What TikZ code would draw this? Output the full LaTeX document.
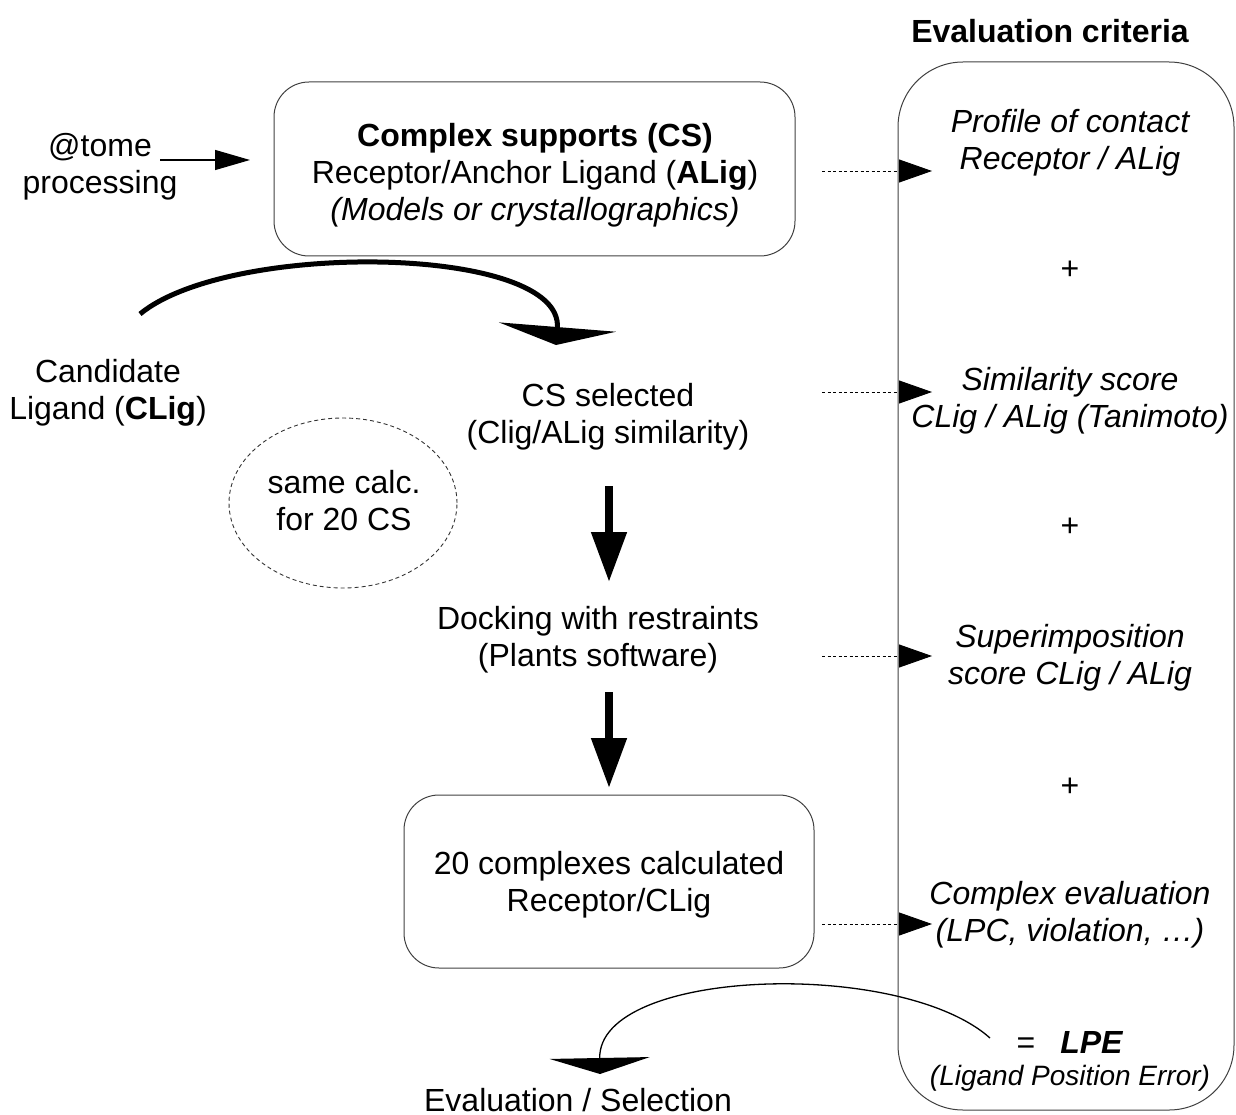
\documentclass[tikz,border=0pt]{standalone}
\usepackage{fontspec}
\setmainfont{Liberation Sans}
\usetikzlibrary{arrows.meta,shapes.geometric}
\begin{document}
\begin{tikzpicture}[x=1pt,y=-1pt,
  txt/.style={font=\fontsize{32}{37}\selectfont, align=center, inner sep=0pt},
  itxt/.style={font=\fontsize{32}{37}\selectfont\itshape, align=center, inner sep=0pt},
  rbox/.style={draw=black!75, line width=1pt, rounded corners=#1, inner sep=0pt, rectangle},
  dotarrow/.style={dash pattern=on 3pt off 2.5pt, line width=0.9pt, -{Triangle[length=33pt,width=23pt]}},
  downarrow/.style={line width=8pt, -{Triangle[length=50pt,width=34pt]}},
  thinarrow/.style={line width=1.3pt, -{Triangle[length=35pt,width=20pt]}}
]
\useasboundingbox (0,0) rectangle (1236,1115);

% boxes
\node[rbox=35pt, minimum width=521pt, minimum height=174pt] (topbox) at (534.5,169) {};
\node[rbox=35pt, minimum width=410pt, minimum height=173pt] (botbox) at (609,881.5) {};
\node[rbox=65pt, minimum width=336pt, minimum height=1048pt] (crit) at (1066,586) {};
\node[draw=black!80, line width=0.9pt, dash pattern=on 4pt off 3pt, ellipse, minimum width=228pt, minimum height=170pt, inner sep=0pt] (same) at (343,503) {};

% texts
\node[txt, font=\fontsize{32}{37}\selectfont\bfseries] (evalcrit) at (1050,31) {Evaluation criteria};
\node[txt] (cstext) at (535,175) {\textbf{Complex supports (CS)}\\Receptor/Anchor Ligand (\textbf{ALig})\\\textit{(Models or crystallographics)}};
\node[txt] (tome) at (100,167) {@tome\\processing};
\node[txt] (cand) at (108,393) {Candidate\\Ligand (\textbf{CLig})};
\node[txt] (cssel) at (608,417) {CS selected\\(Clig/ALig similarity)};
\node[txt] (sametxt) at (344,501) {same calc.\\for 20 CS};
\node[txt] (dock) at (598,640) {Docking with restraints\\(Plants software)};
\node[txt] (complexes) at (609,885) {20 complexes calculated\\Receptor/CLig};
\node[txt] (evalsel) at (578,1100) {Evaluation / Selection};

\node[itxt] (c1) at (1070,143) {Profile of contact\\Receptor / ALig};
\node[txt] (p1) at (1070,270) {+};
\node[itxt] (c2) at (1070,401) {Similarity score\\CLig / ALig (Tanimoto)};
\node[txt] (p2) at (1070,527) {+};
\node[itxt] (c3) at (1070,658) {Superimposition\\score CLig / ALig};
\node[txt] (p3) at (1070,787) {+};
\node[itxt] (c4) at (1070,915) {Complex evaluation\\(LPC, violation, …)};
\node[txt] (lpe) at (1070,1042) {=\hspace{25pt}\textbf{\textit{LPE}}};
\node[inner sep=0pt, font=\fontsize{28}{32}\selectfont\itshape] (lpefull) at (1070,1078) {(Ligand Position Error)};

% coordinates
\coordinate (tomeS) at (160,160);
\coordinate (tomeE) at (250,160);
\coordinate (d1s) at (822,171);
\coordinate (d1e) at (932,171);
\coordinate (d2s) at (822,392);
\coordinate (d2e) at (932,392);
\coordinate (d3s) at (822,656);
\coordinate (d3e) at (932,656);
\coordinate (d4s) at (822,924);
\coordinate (d4e) at (932,924);
\coordinate (a1s) at (609,486);
\coordinate (a1e) at (609,582);
\coordinate (a2s) at (609,692);
\coordinate (a2e) at (609,788);
\coordinate (cvs) at (140,314);
\coordinate (cve) at (556,345);
\coordinate (bvs) at (990,1038);
\coordinate (bve) at (600,1074);

% connectors
\draw[thinarrow] (tomeS) -- (tomeE);
\draw[dotarrow] (d1s) -- (d1e);
\draw[dotarrow] (d2s) -- (d2e);
\draw[dotarrow] (d3s) -- (d3e);
\draw[dotarrow] (d4s) -- (d4e);
\draw[downarrow] (a1s) -- (a1e);
\draw[downarrow] (a2s) -- (a2e);
\draw[line width=5pt, -{Triangle[length=18pt,width=117pt]}] (cvs) .. controls (230,240) and (564,245) .. (cve);
\draw[line width=1.3pt, -{Triangle[length=16pt,width=100pt]}] (bvs) .. controls (900,958) and (598,968) .. (bve);
\end{tikzpicture}
\end{document}
